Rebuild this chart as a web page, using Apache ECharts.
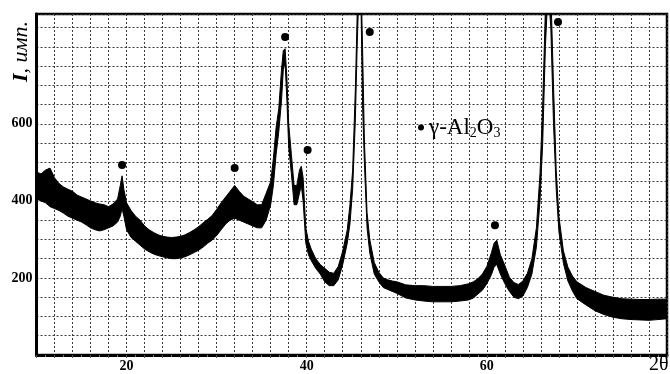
<!DOCTYPE html>
<html><head><meta charset="utf-8">
<script src="https://cdn.jsdelivr.net/npm/echarts@6/dist/echarts.min.js"></script>
<style>html,body{margin:0;padding:0;background:#fff}#c{width:670px;height:374px}</style>
</head><body><div id="c"></div>
<script>
// 2θ positions (degrees)
const twoTheta = [
 10,10.5,11,11.5,12,12.5,13,13.5,14,14.5,15,15.5,16,16.5,17,17.5,18,18.5,19,19.3,19.5,19.7,20,20.5,
 21,21.5,22,22.5,23,23.5,24,24.5,25,25.5,26,26.5,27,27.5,28,28.5,29,29.5,30,30.5,31,31.5,32,32.5,
 33,33.5,34,34.5,35,35.5,36,36.3,36.6,36.9,37.2,37.4,37.6,37.8,38,38.3,38.6,38.9,39.2,39.4,39.6,39.9,
 40.2,40.5,41,41.5,42,42.5,43,43.5,44,44.5,44.8,45.1,45.4,45.6,45.8,46,46.2,46.4,46.7,47,47.5,48,
 48.5,49,49.5,50,51,52,53,54,55,56,57,58,58.5,59,59.5,60,60.5,60.8,61.1,61.5,62,62.5,63,63.5,
 64,64.5,65,65.5,65.9,66.2,66.5,66.8,67.1,67.4,67.7,68,68.5,69,69.5,70,71,72,73,74,75,76,77,78,79,80
];
// upper edge of the noisy trace (intensity, arb. units)
const upper = [
 475,470,480,485,460,445,436,430,425,415,410,405,400,395,392,390,385,392,405,440,465,430,395,375,
 360,350,335,325,318,312,308,306,305,306,308,312,318,325,333,343,352,362,378,395,410,425,440,425,
 412,405,398,390,390,420,450,510,590,640,740,790,795,720,600,520,440,440,480,490,460,330,
 295,275,250,235,225,215,212,230,270,325,390,480,690,880,1000,1000,800,560,370,300,240,215,
 200,195,192,190,182,180,180,178,178,178,180,185,190,198,210,230,265,290,298,260,232,202,188,183,
 192,212,250,330,470,650,900,1000,950,700,480,360,270,228,205,190,175,165,155,150,146,145,144,144,145,145
];
// lower edge of the noisy trace
const lower = [
 405,400,395,385,380,375,368,360,355,350,345,338,330,325,322,325,330,335,345,360,380,360,325,305,
 295,285,275,268,262,258,255,252,250,250,252,255,260,266,272,280,290,298,310,325,340,350,355,350,
 345,340,335,330,330,350,390,440,520,580,660,740,760,660,540,470,390,390,420,440,400,290,
 260,245,225,210,190,180,180,195,235,290,340,430,610,800,950,950,650,500,330,265,210,190,
 175,170,165,160,148,143,140,138,138,138,140,143,148,158,168,185,208,228,235,210,185,165,150,146,
 153,175,210,280,400,550,800,950,850,600,430,320,238,192,166,146,130,115,105,98,94,92,91,90,92,94
];
// γ-Al2O3 reflection markers
const markerX = [19.5, 32.0, 37.6, 40.1, 47.0, 60.9, 67.9];
const markerY = [493, 485, 825, 532, 838, 337, 864];
const xTickLabels = [20, 40, 60];
const yTickLabels = [200, 400, 600];
const yAxisTitle = 'I, имп.';
const xAxisTitle = '2θ';
const phaseName = 'γ-Al2O3';

const serif = '"Liberation Serif","Times New Roman",serif';
const chart = echarts.init(document.getElementById('c'), null, {renderer: 'canvas'});
const dash = {color: '#3a3a3a', type: [2, 2], width: 1};

chart.setOption({
  animation: false,
  grid: {left: 36.5, right: -1.5, top: 14, bottom: 19, show: true, borderColor: '#000', borderWidth: 2.5},
  xAxis: {
    type: 'value', min: 10, max: 80, interval: 2,
    axisLine: {show: true, lineStyle: {color: '#000', width: 3}},
    axisTick: {show: true, length: 3, lineStyle: {color: '#555', width: 1}},
    minorTick: {show: true, splitNumber: 2, length: 2, lineStyle: {color: '#777'}},
    axisLabel: {
      formatter: v => xTickLabels.includes(v) ? String(v) : '',
      fontFamily: serif, fontWeight: 'bold', fontSize: 14, color: '#000', margin: 4
    },
    splitLine: {show: true, lineStyle: dash}
  },
  yAxis: {
    type: 'value', min: 0, max: 885, interval: 50,
    axisLine: {show: true, lineStyle: {color: '#000', width: 3}},
    axisTick: {show: false},
    axisLabel: {
      formatter: v => yTickLabels.includes(v) ? String(v) : '',
      fontFamily: serif, fontWeight: 'bold', fontSize: 14, color: '#000', margin: 4
    },
    splitLine: {show: true, lineStyle: dash}
  },
  legend: {
    data: [phaseName], left: 413, top: 111, icon: 'circle', itemWidth: 6, itemHeight: 6, itemGap: 0,
    itemStyle: {opacity: 1, color: '#000'},
    formatter: () => '{t|γ-Al}{s|2}{t|O}{s|3}',
    textStyle: {
      color: '#000',
      rich: {
        t: {fontFamily: serif, fontSize: 23, color: '#000', lineHeight: 26, verticalAlign: 'middle'},
        s: {fontFamily: serif, fontSize: 14, color: '#000', lineHeight: 14, verticalAlign: 'bottom'}
      }
    }
  },
  graphic: [
    {type: 'text', x: 21, y: 82, rotation: Math.PI / 2,
     style: {text: '{b|I}{i|, имп.}', textAlign: 'left', textVerticalAlign: 'middle',
       rich: {b: {fontFamily: serif, fontSize: 22, fontWeight: 'bold', fontStyle: 'italic', fill: '#000'},
              i: {fontFamily: serif, fontSize: 22, fontStyle: 'italic', fill: '#000'}}}},
    {type: 'text', left: 649, top: 355, style: {text: xAxisTitle, font: '20px ' + serif, fill: '#000'}}
  ],
  series: [
    {
      name: 'pattern', type: 'custom', clip: true, silent: true,
      data: [[twoTheta[0], lower[0]]],
      renderItem: (params, api) => {
        const pts = [];
        for (let i = 0; i < twoTheta.length; i++) pts.push(api.coord([twoTheta[i], upper[i]]));
        for (let i = twoTheta.length - 1; i >= 0; i--) pts.push(api.coord([twoTheta[i], lower[i]]));
        const cs = params.coordSys;
        return {
          type: 'polygon', shape: {points: pts},
          style: {fill: '#000', stroke: '#000', lineWidth: 1},
          clipPath: {type: 'rect', shape: {x: cs.x, y: cs.y, width: cs.width, height: cs.height}}
        };
      }
    },
    {
      name: phaseName, type: 'scatter', symbol: 'circle', symbolSize: 8,
      itemStyle: {color: '#000', opacity: 1},
      data: markerX.map((x, i) => [x, markerY[i]])
    }
  ]
});
</script></body></html>
